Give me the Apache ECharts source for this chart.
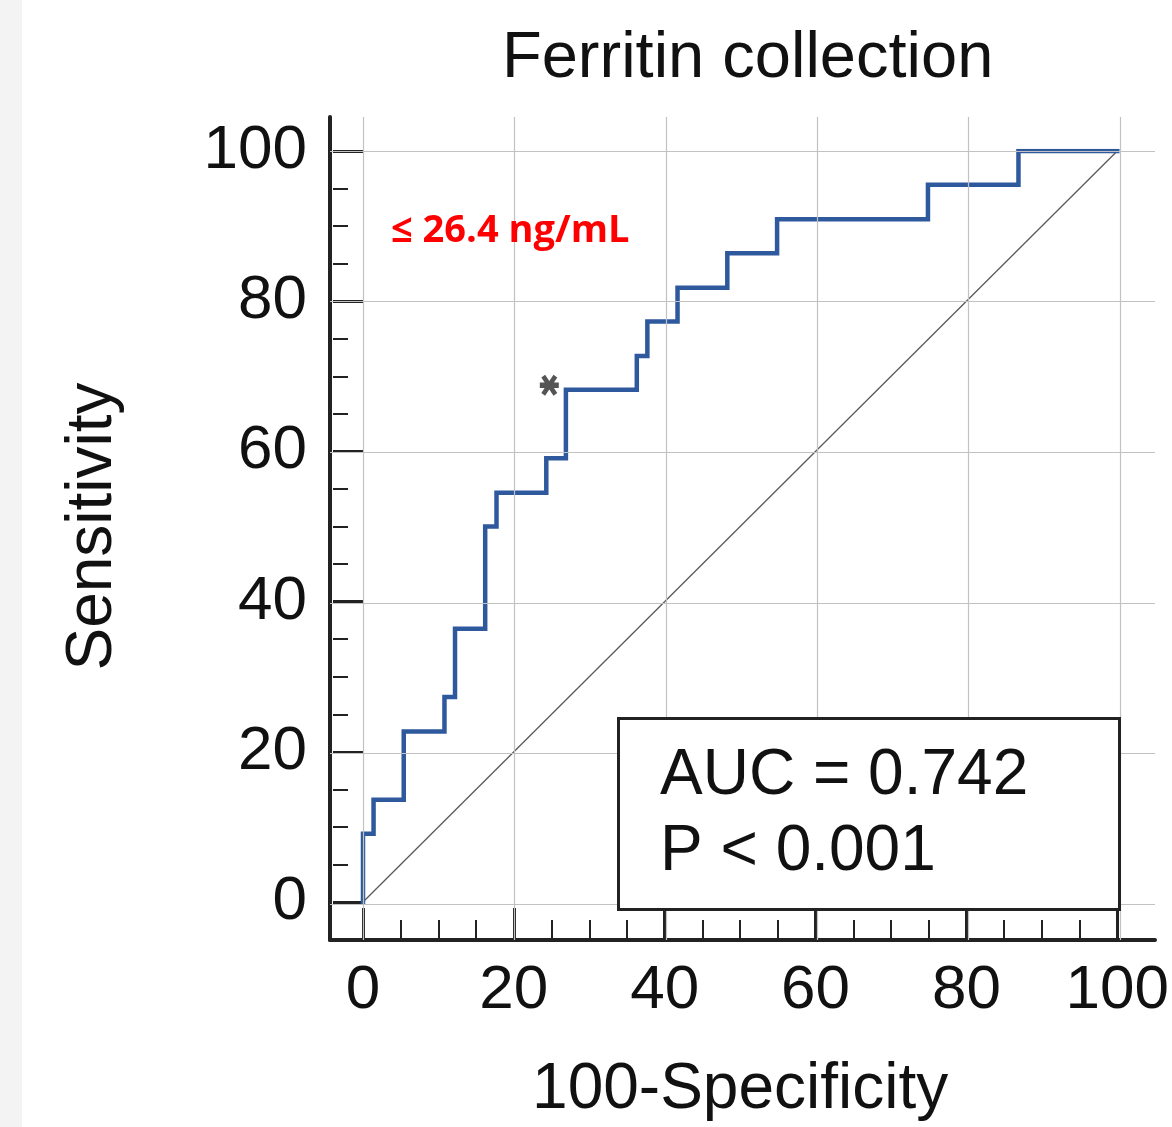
<!DOCTYPE html>
<html><head><meta charset="utf-8">
<script src="https://cdn.jsdelivr.net/npm/echarts@6/dist/echarts.min.js"></script>
<style>
html,body{margin:0;padding:0;background:linear-gradient(to right,#f3f3f3 0,#f3f3f3 22px,#fff 22px);}
#c{width:1172px;height:1127px;}
</style></head><body><div id="c"></div>
<script>
const titleText = 'Ferritin collection';
const xName = '100-Specificity';
const yName = 'Sensitivity';
const cutoffText = '≤ 26.4 ng/mL';
const statText = ['AUC = 0.742', 'P < 0.001'];
const tickValues = [0, 20, 40, 60, 80, 100];
// ROC step curve corners (100-Specificity, Sensitivity)
const rocFpr  = [0, 0, 1.4, 1.4, 5.4, 5.4, 10.8, 10.8, 12.2, 12.2, 16.2, 16.2, 17.7, 17.7, 24.3, 24.3, 26.9, 26.9, 36.3, 36.3, 37.7, 37.7, 41.7, 41.7, 48.3, 48.3, 54.9, 54.9, 74.9, 74.9, 86.9, 86.9, 100];
const rocSens = [0, 9.1, 9.1, 13.6, 13.6, 22.7, 22.7, 27.3, 27.3, 36.4, 36.4, 50.0, 50.0, 54.5, 54.5, 59.1, 59.1, 68.2, 68.2, 72.7, 72.7, 77.3, 77.3, 81.8, 81.8, 86.4, 86.4, 90.9, 90.9, 95.5, 95.5, 100, 100];
const diagX = [0, 100];
const diagY = [0, 100];
const cutoffPoint = [24.7, 68.8];

const font = 'Liberation Sans, Arial, sans-serif';
const chart = echarts.init(document.getElementById('c'), null, {renderer: 'canvas'});
const gridLines = tickValues.map(v => ({xAxis: v})).concat(tickValues.map(v => ({yAxis: v})));
const asterisk = 'path://M0,3.6L10,3.6L10,6.4L0,6.4Z M0.8,1.1L2.8,-0.3L9.2,8.9L7.2,10.3Z M7.2,-0.3L9.2,1.1L2.8,10.3L0.8,8.9Z';

chart.setOption({
  animation: false,
  backgroundColor: 'transparent',
  title: [
    {text: titleText, left: 497, top: 22, textStyle: {fontFamily: font, fontSize: 65, fontWeight: 'normal', color: '#111'}},
    {text: cutoffText, left: 386, top: 207, textStyle: {fontFamily: 'Open Sans, Noto Sans, sans-serif', fontSize: 38, fontWeight: 'bold', color: '#ff0000'}},
    {text: statText.join('\n'), left: 618, top: 718, padding: [20, 92, 20, 42], borderColor: '#222', borderWidth: 3, backgroundColor: '#fff',
     textStyle: {fontFamily: font, fontSize: 64, fontWeight: 'normal', color: '#111', lineHeight: 76}}
  ],
  grid: [
    {left: 363, right: 52, top: 151, bottom: 223},
    {left: 330, right: 17, top: 117, bottom: 187}
  ],
  xAxis: [
    {type: 'value', gridIndex: 0, min: 0, max: 100, interval: 20, position: 'bottom', offset: 36,
     name: xName, nameLocation: 'middle', nameGap: 120,
     nameTextStyle: {fontFamily: font, fontSize: 64, color: '#111'},
     axisLine: {show: false, onZero: false},
     axisTick: {show: true, inside: true, length: 30, lineStyle: {color: '#222', width: 3}},
     minorTick: {show: true, splitNumber: 4, length: 18, lineStyle: {color: '#222', width: 2}},
     axisLabel: {fontFamily: font, fontSize: 62, color: '#111', margin: 22},
     splitLine: {show: false}},
    {type: 'value', gridIndex: 1, min: -4.36, max: 104.62, position: 'bottom',
     axisLine: {show: true, onZero: false, lineStyle: {color: '#222', width: 4}},
     axisTick: {show: false}, axisLabel: {show: false}, splitLine: {show: false}}
  ],
  yAxis: [
    {type: 'value', gridIndex: 0, min: 0, max: 100, interval: 20, position: 'left', offset: 30,
     name: yName, nameLocation: 'middle', nameGap: 208, nameRotate: 90,
     nameTextStyle: {fontFamily: font, fontSize: 64, color: '#111'},
     axisLine: {show: false, onZero: false},
     axisTick: {show: true, inside: true, length: 30, lineStyle: {color: '#222', width: 3}},
     minorTick: {show: true, splitNumber: 4, length: 15, lineStyle: {color: '#222', width: 2}},
     axisLabel: {fontFamily: font, fontSize: 62, color: '#111', margin: 26},
     splitLine: {show: false}},
    {type: 'value', gridIndex: 1, min: -4.78, max: 104.5, position: 'left',
     axisLine: {show: true, onZero: false, lineStyle: {color: '#222', width: 4}},
     axisTick: {show: false}, axisLabel: {show: false}, splitLine: {show: false}}
  ],
  series: [
    {type: 'line', xAxisIndex: 1, yAxisIndex: 1, data: [], silent: true, z: 1,
     markLine: {silent: true, symbol: 'none', label: {show: false},
       lineStyle: {color: '#c2c2c2', width: 1.2, type: 'solid'}, data: gridLines}},
    {type: 'line', xAxisIndex: 0, yAxisIndex: 0, z: 3, symbol: 'none', silent: true,
     lineStyle: {color: '#5a5a5a', width: 1.3},
     data: diagX.map((x, i) => [x, diagY[i]])},
    {type: 'line', xAxisIndex: 0, yAxisIndex: 0, z: 4, symbol: 'none', silent: true,
     lineStyle: {color: '#2f599d', width: 4.5, join: 'miter', cap: 'square'},
     data: rocFpr.map((x, i) => [x, rocSens[i]])},
    {type: 'scatter', xAxisIndex: 0, yAxisIndex: 0, z: 5, silent: true,
     symbol: asterisk, symbolSize: [19, 21], itemStyle: {color: '#2a2a2a'},
     data: [cutoffPoint]}
  ]
});
</script></body></html>
